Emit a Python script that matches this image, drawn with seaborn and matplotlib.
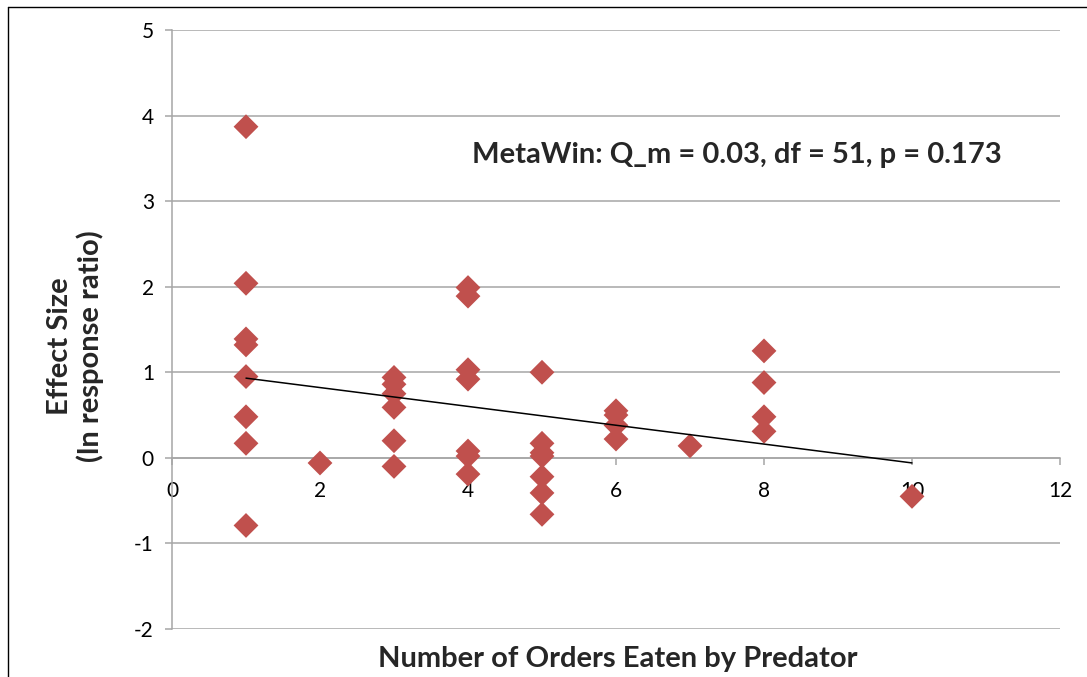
import matplotlib
matplotlib.use("Agg")
import matplotlib.pyplot as plt
import seaborn as sns
import pandas as pd
import numpy as np
from matplotlib.lines import Line2D

# ---- data ----
orders_1 = [1, 1, 1, 1, 1, 1, 1, 1]
effect_1 = [3.87, 2.04, 1.39, 1.32, 0.95, 0.48, 0.17, -0.79]
orders_2 = [2]
effect_2 = [-0.06]
orders_3 = [3, 3, 3, 3, 3, 3]
effect_3 = [0.94, 0.86, 0.75, 0.59, 0.20, -0.10]
orders_4 = [4, 4, 4, 4, 4, 4, 4]
effect_4 = [1.99, 1.89, 1.03, 0.92, 0.08, 0.02, -0.19]
orders_5 = [5, 5, 5, 5, 5, 5, 5]
effect_5 = [1.00, 0.17, 0.06, 0.02, -0.22, -0.41, -0.66]
orders_6 = [6, 6, 6, 6]
effect_6 = [0.55, 0.50, 0.38, 0.22]
orders_7 = [7]
effect_7 = [0.14]
orders_8 = [8, 8, 8, 8]
effect_8 = [1.25, 0.88, 0.48, 0.31]
orders_10 = [10]
effect_10 = [-0.45]

x_ticks = [0, 2, 4, 6, 8, 10, 12]
y_ticks = [-2, -1, 0, 1, 2, 3, 4, 5]
annotation = "MetaWin: Q_m = 0.03, df = 51, p = 0.173"
x_label = "Number of Orders Eaten by Predator"
y_label = "Effect Size\n(ln response ratio)"

orders = (orders_1 + orders_2 + orders_3 + orders_4 + orders_5 + orders_6
          + orders_7 + orders_8 + orders_10)
effects = (effect_1 + effect_2 + effect_3 + effect_4 + effect_5 + effect_6
           + effect_7 + effect_8 + effect_10)
df = pd.DataFrame({"orders": orders, "effect": effects})

sns.set_style("white")
plt.rcParams['font.family'] = ['Lato', 'DejaVu Sans']

W, H = 1087, 677
fig = plt.figure(figsize=(W / 100, H / 100), dpi=100)
left, right = 172 / W, 1060 / W
top, bottom = 1 - 30 / H, 1 - 629 / H
ax = fig.add_axes([left, bottom, right - left, top - bottom])

grid_color = "#a6a6a6"
for yt in y_ticks:
    ax.axhline(yt, color=grid_color, lw=1.1, zorder=0)

sns.scatterplot(data=df, x="orders", y="effect", marker="D", s=160,
                color="#C0504D", edgecolor="none", linewidth=0, ax=ax, zorder=3)
sns.regplot(data=df, x="orders", y="effect", scatter=False, ci=None,
            truncate=True, line_kws={"color": "black", "lw": 1.1, "zorder": 4},
            ax=ax)

for s in ["top", "right"]:
    ax.spines[s].set_visible(False)
ax.spines["left"].set_color(grid_color)
ax.spines["left"].set_linewidth(1.1)
ax.spines["bottom"].set_position(("data", 0))
ax.spines["bottom"].set_color(grid_color)
ax.spines["bottom"].set_linewidth(1.1)
ax.spines["bottom"].set_zorder(1)

ax.set_xlim(0, 12)
ax.set_ylim(-2, 5)
ax.set_xticks(x_ticks)
ax.set_yticks(y_ticks)
ax.set_xticklabels([str(t) for t in x_ticks])
ax.set_yticklabels([str(t) for t in y_ticks])

ax.tick_params(axis="y", direction="out", length=5, width=1.1, color=grid_color,
               pad=8, left=True, labelsize=15, labelcolor="black")
ax.tick_params(axis="x", direction="out", length=5, width=1.1, color=grid_color,
               pad=12, bottom=True, labelsize=15, labelcolor="black")
for lbl in ax.get_xticklabels():
    lbl.set_zorder(5)

ax.set_xlabel(x_label, fontsize=21, fontweight="bold")
ax.set_ylabel(y_label, fontsize=21, fontweight="bold", linespacing=1.15)
ax.xaxis.set_label_coords((618 - 172) / 888, (629 - 646) / 599)
ax.yaxis.set_label_coords((104 - 172) / 888, (629 - 346) / 599)

ax.text(7.64, 3.54, annotation, fontsize=21, fontweight="bold",
        ha="center", va="center")

# chart frame (left and top border)
fig.add_artist(Line2D([8 / W, 8 / W], [0, 1 - 7 / H], color="black", lw=1.0,
                      transform=fig.transFigure))
fig.add_artist(Line2D([8 / W, 1], [1 - 7 / H, 1 - 7 / H], color="black", lw=1.0,
                      transform=fig.transFigure))

fig.savefig("out.png", dpi=100)
